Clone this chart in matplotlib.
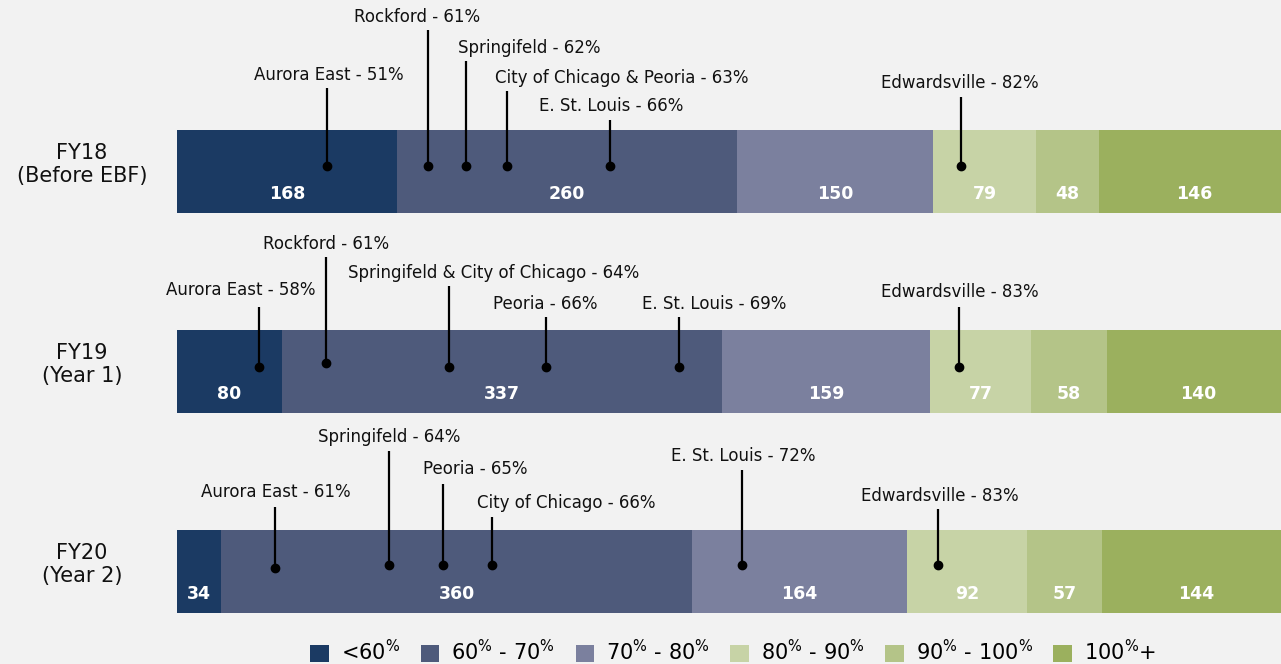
import matplotlib
matplotlib.use('Agg')
import matplotlib.pyplot as plt
from matplotlib.patches import Patch

# ---- data ----
years = ['FY18\n(Before EBF)', 'FY19\n(Year 1)', 'FY20\n(Year 2)']
bands = [r'<$\mathregular{60^{\%}}$',
         r'$\mathregular{60^{\%}}$ - $\mathregular{70^{\%}}$',
         r'$\mathregular{70^{\%}}$ - $\mathregular{80^{\%}}$',
         r'$\mathregular{80^{\%}}$ - $\mathregular{90^{\%}}$',
         r'$\mathregular{90^{\%}}$ - $\mathregular{100^{\%}}$',
         r'$\mathregular{100^{\%}}$+']
fy18 = [168, 260, 150, 79, 48, 146]
fy19 = [80, 337, 159, 77, 58, 140]
fy20 = [34, 360, 164, 92, 57, 144]

# districts marked on each bar, position = district rank from the left
fy18_names = ['Aurora East - 51%', 'Rockford - 61%', 'Springifeld - 62%',
              'City of Chicago & Peoria - 63%', 'E. St. Louis - 66%', 'Edwardsville - 82%']
fy18_pos = [115, 192, 221, 252, 331, 599]
fy19_names = ['Aurora East - 58%', 'Rockford - 61%', 'Springifeld & City of Chicago - 64%',
              'Peoria - 66%', 'E. St. Louis - 69%', 'Edwardsville - 83%']
fy19_pos = [63, 114, 208, 282, 384, 598]
fy20_names = ['Aurora East - 61%', 'Springifeld - 64%', 'Peoria - 65%',
              'City of Chicago - 66%', 'E. St. Louis - 72%', 'Edwardsville - 83%']
fy20_pos = [75, 162, 203, 241, 432, 582]

colors = ['#1b3a63', '#4e5a7b', '#7b809e', '#c7d3a6', '#b4c488', '#9bb05e']
bg = '#f2f2f2'

# label placement in figure pixels: (text x, text y, line top, dot y)
fy18_lay = [(329, 75, 88, 166), (417, 17, 30, 166), (529, 48, 61, 166),
            (622, 78, 91, 166), (611, 106, 120, 166), (960, 83, 97, 166)]
fy19_lay = [(241, 290, 307, 367), (326, 244, 257, 363), (494, 273, 286, 367),
            (545, 304, 317, 367), (714, 304, 317, 367), (960, 292, 307, 367)]
fy20_lay = [(276, 492, 507, 568), (389, 437, 451, 565), (475, 469, 484, 565),
            (566, 503, 517, 565), (743, 456, 470, 565), (940, 496, 509, 565)]

W, H = 1281, 664
x0 = 177
row0, row_gap = 171.5, 200.0
xmax = 844  # bars run past the right edge of the picture

def px_x(px):
    return (px - x0) * xmax / (W - x0)

def px_y(py):
    return (py - row0) / row_gap

fig = plt.figure(figsize=(W / 100.0, H / 100.0), dpi=100)
fig.patch.set_facecolor(bg)
ax = fig.add_axes([x0 / W, 0, 1 - x0 / W, 1])
ax.set_facecolor(bg)
ax.set_xlim(0, xmax)
ax.set_ylim(px_y(H), px_y(0))
ax.axis('off')

rows = [fy18, fy19, fy20]
names = [fy18_names, fy19_names, fy20_names]
poss = [fy18_pos, fy19_pos, fy20_pos]
lays = [fy18_lay, fy19_lay, fy20_lay]

for i, counts in enumerate(rows):
    left = 0
    for j, v in enumerate(counts):
        ax.barh(i, v, left=left, height=0.415, color=colors[j], linewidth=0)
        ax.text(left + v / 2.0, i + 0.1125, str(v), ha='center', va='center',
                color='white', fontsize=12.5, fontweight='bold')
        left += v
    ax.text(px_x(82), i - 0.035, years[i], ha='center', va='center',
            fontsize=15, linespacing=1.15, color='#111111', clip_on=False)

    for name, p, (lx, ly, ltop, dy) in zip(names[i], poss[i], lays[i]):
        ax.plot([p, p], [px_y(dy), px_y(ltop)], color='black', lw=1.6,
                solid_capstyle='butt')
        ax.plot(p, px_y(dy), 'o', color='black', ms=6)
        ax.text(px_x(lx), px_y(ly), name, ha='center', va='center',
                fontsize=12, color='#111111')

handles = [Patch(facecolor=c, edgecolor='none') for c in colors]
fig.legend(handles, bands, loc='center', bbox_to_anchor=(733.0 / W, 1 - 652.0 / H),
           ncol=6, frameon=False, fontsize=15, handlelength=0.9, handleheight=0.9,
           handletextpad=0.55, columnspacing=1.0, borderaxespad=0)

fig.savefig('out.png', dpi=100, facecolor=bg)
